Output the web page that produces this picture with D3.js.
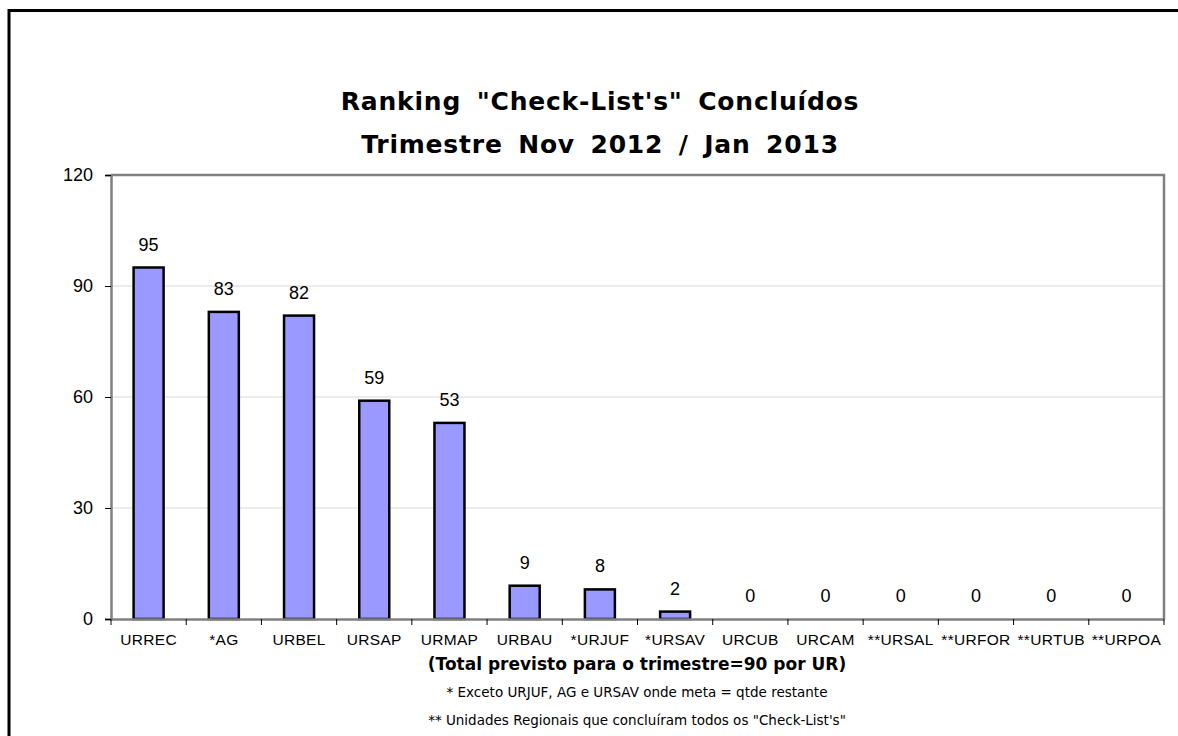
<!DOCTYPE html>
<html>
<head>
<meta charset="utf-8">
<script src="https://cdn.jsdelivr.net/npm/d3@7"></script>
<style>
  body { margin: 0; background: #fff; }
  svg { display: block; }
</style>
</head>
<body>
<svg width="1178" height="736"></svg>
<script>
// data
var units = ["URREC", "*AG", "URBEL", "URSAP", "URMAP", "URBAU", "*URJUF", "*URSAV",
             "URCUB", "URCAM", "**URSAL", "**URFOR", "**URTUB", "**URPOA"]
var concluded = [95, 83, 82, 59, 53, 9, 8, 2, 0, 0, 0, 0, 0, 0]
var yTicks = [0, 30, 60, 90, 120]

var titleLines = ["Ranking \"Check-List's\" Concluídos", "Trimestre Nov 2012 / Jan 2013"]
var xTitle = "(Total previsto para o trimestre=90 por UR)"
var notes = ["* Exceto URJUF, AG e URSAV onde meta = qtde restante",
             "** Unidades Regionais que concluíram todos os \"Check-List's\""]

var comic = "'Comic Sans MS', 'DejaVu Sans', sans-serif"
var arial = "Arial, 'Liberation Sans', sans-serif"

var svg = d3.select("svg")

// outer frame (only top and left edges visible)
svg.append("path")
  .attr("d", "M9,736 V10.5 H1178")
  .attr("fill", "none")
  .attr("stroke", "#000")
  .attr("stroke-width", 3)

var plotL = 111, plotT = 175, plotR = 1164, plotB = 619

var x = d3.scaleBand().domain(units).range([plotL, plotR])
var y = d3.scaleLinear().domain([0, 120]).range([plotB, plotT])

// title
svg.selectAll(".title")
  .data(titleLines)
  .enter().append("text")
  .attr("x", 600)
  .attr("y", function(d, i) { return 110 + i * 43 })
  .attr("text-anchor", "middle")
  .attr("font-family", comic)
  .attr("font-weight", "bold")
  .attr("font-size", "25px")
  .attr("letter-spacing", "0.8px")
  .attr("word-spacing", "6px")
  .text(function(d) { return d })

// gridlines
svg.selectAll(".grid")
  .data(yTicks.filter(function(d) { return d > 0 && d < 120 }))
  .enter().append("line")
  .attr("x1", plotL).attr("x2", plotR)
  .attr("y1", function(d) { return y(d) }).attr("y2", function(d) { return y(d) })
  .attr("stroke", "#d9d9d9")
  .attr("stroke-width", 1)

// plot border top + right
svg.append("path")
  .attr("d", "M" + plotL + "," + plotT + " H" + plotR + " V" + plotB)
  .attr("fill", "none")
  .attr("stroke", "#808080")
  .attr("stroke-width", 2.5)

// bars
var barW = 30
svg.selectAll(".bar")
  .data(concluded)
  .enter().append("rect")
  .attr("class", "bar")
  .attr("x", function(d, i) { return x(units[i]) + x.bandwidth() / 2 - barW / 2 })
  .attr("y", function(d) { return y(d) })
  .attr("width", barW)
  .attr("height", function(d) { return plotB - y(d) })
  .attr("fill", "#9999ff")
  .attr("stroke", "#000")
  .attr("stroke-width", function(d) { return d > 0 ? 2.5 : 0 })

// value labels
svg.selectAll(".val")
  .data(concluded)
  .enter().append("text")
  .attr("x", function(d, i) { return x(units[i]) + x.bandwidth() / 2 })
  .attr("y", function(d) { return y(d) - 17 })
  .attr("text-anchor", "middle")
  .attr("font-family", arial)
  .attr("font-size", "18px")
  .text(function(d) { return d })

// y axis
var yAxis = svg.append("g")
  .attr("transform", "translate(" + plotL + ",0)")
  .call(d3.axisLeft(y).tickValues(yTicks).tickSize(6).tickPadding(12))
yAxis.select(".domain").attr("stroke", "#808080").attr("stroke-width", 2.5)
yAxis.selectAll(".tick line").attr("stroke", "#000")
yAxis.selectAll(".tick text")
  .attr("font-family", arial)
  .attr("font-size", "18px")
  .attr("fill", "#000")

// x axis
var xAxis = svg.append("g")
  .attr("transform", "translate(0," + plotB + ")")
  .call(d3.axisBottom(x).tickSize(0).tickPadding(15))
xAxis.select(".domain").attr("stroke", "#808080").attr("stroke-width", 2.5)
xAxis.selectAll(".tick text")
  .attr("font-family", arial)
  .attr("font-size", "15.5px")
  .attr("letter-spacing", "0.3px")
  .attr("fill", "#000")

// category separator ticks
svg.selectAll(".sep")
  .data(units.concat(["end"]))
  .enter().append("line")
  .attr("x1", function(d, i) { return plotL + i * x.bandwidth() })
  .attr("x2", function(d, i) { return plotL + i * x.bandwidth() })
  .attr("y1", plotB)
  .attr("y2", plotB + 6)
  .attr("stroke", "#000")

// x axis title + notes
svg.append("text")
  .attr("x", 637)
  .attr("y", 670)
  .attr("text-anchor", "middle")
  .attr("font-family", comic)
  .attr("font-weight", "bold")
  .attr("font-size", "17px")
  .text(xTitle)

svg.selectAll(".note")
  .data(notes)
  .enter().append("text")
  .attr("x", 637)
  .attr("y", function(d, i) { return 697 + i * 28 })
  .attr("text-anchor", "middle")
  .attr("font-family", comic)
  .attr("font-size", "13.5px")
  .text(function(d) { return d })
</script>
</body>
</html>
